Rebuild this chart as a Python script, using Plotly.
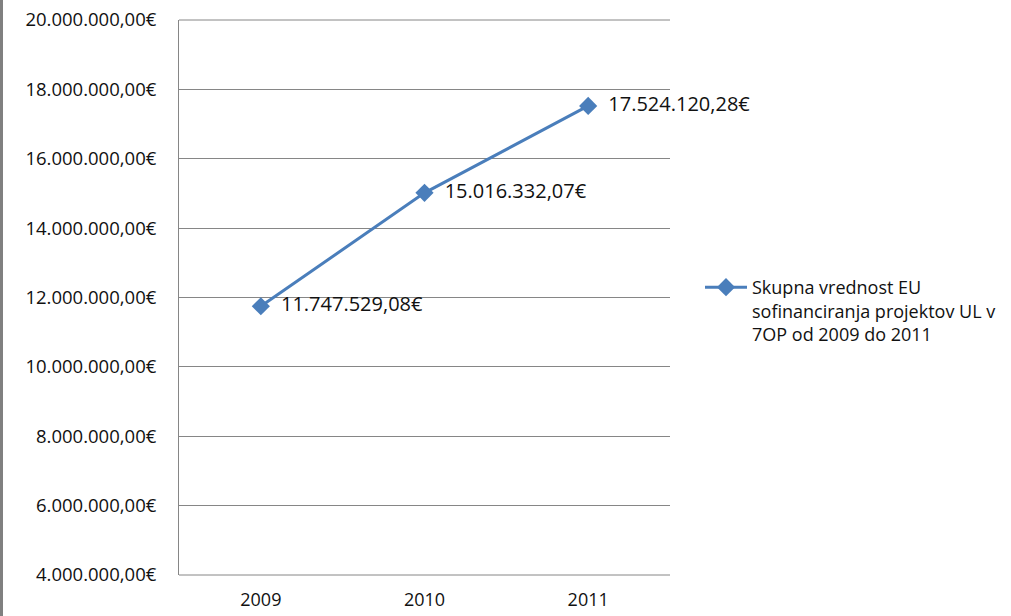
import plotly.graph_objects as go

years = ["2009", "2010", "2011"]
values = [11747529.08, 15016332.07, 17524120.28]
value_labels = ["11.747.529,08€", "15.016.332,07€", "17.524.120,28€"]
y_ticks = [4e6, 6e6, 8e6, 10e6, 12e6, 14e6, 16e6, 18e6, 20e6]
y_tick_labels = ["4.000.000,00€", "6.000.000,00€", "8.000.000,00€", "10.000.000,00€",
                 "12.000.000,00€", "14.000.000,00€", "16.000.000,00€", "18.000.000,00€",
                 "20.000.000,00€"]
series_name = "Skupna vrednost EU<br>sofinanciranja projektov UL v<br>7OP od 2009 do 2011"

W, H = 1011, 616
L, R, T, B = 179, 341, 20, 41
pw = W - L - R
ph = H - T - B
FONT = "Open Sans"
TXT = "#111111"
GRID = "#868686"

fig = go.Figure()
fig.add_trace(go.Scatter(
    x=years, y=values, mode="lines+markers+text",
    name=series_name,
    text=["  " + s for s in value_labels],
    textposition="middle right",
    textfont=dict(family=FONT, size=20, color=TXT),
    line=dict(color="#4a7ebb", width=3),
    marker=dict(symbol="diamond", size=14, color="#4a7ebb"),
    cliponaxis=False,
))

fig.update_layout(
    width=W, height=H,
    margin=dict(l=L, r=R, t=T, b=B, autoexpand=False),
    paper_bgcolor="white", plot_bgcolor="white",
    font=dict(family=FONT, size=18, color=TXT),
    showlegend=True,
    legend=dict(x=(700 - L) / pw, y=(575 - 269) / ph, xanchor="left", yanchor="top",
                font=dict(family=FONT, size=18, color=TXT), valign="top",
                itemwidth=42, tracegroupgap=0, bgcolor="rgba(0,0,0,0)"),
    xaxis=dict(type="category", range=[-0.5, 2.5], showgrid=False,
               showline=False, zeroline=False, ticks="",
               ticklabelstandoff=12,
               tickfont=dict(family=FONT, size=18, color=TXT)),
    yaxis=dict(range=[4e6, 20e6], tickvals=y_ticks, ticktext=y_tick_labels,
               showgrid=True, gridcolor=GRID, gridwidth=1,
               showline=True, linecolor=GRID, linewidth=1,
               zeroline=False, ticks="", ticklabelstandoff=18,
               tickfont=dict(family=FONT, size=18.5, color=TXT)),
    shapes=[
        dict(type="line", xref="paper", yref="paper",
             x0=(1.5 - L) / pw, x1=(1.5 - L) / pw, y0=-B / ph, y1=1 + T / ph,
             line=dict(color="#808080", width=3)),
        dict(type="line", xref="paper", yref="paper", x0=0, x1=1, y0=0, y1=0,
             line=dict(color=GRID, width=1)),
        dict(type="line", xref="paper", yref="paper", x0=0, x1=1, y0=1, y1=1,
             line=dict(color=GRID, width=1), layer="below"),
    ],
)

fig.write_html("out.html", config={"displayModeBar": False},
               post_script="document.body.style.margin='0';document.body.style.overflow='hidden';")
